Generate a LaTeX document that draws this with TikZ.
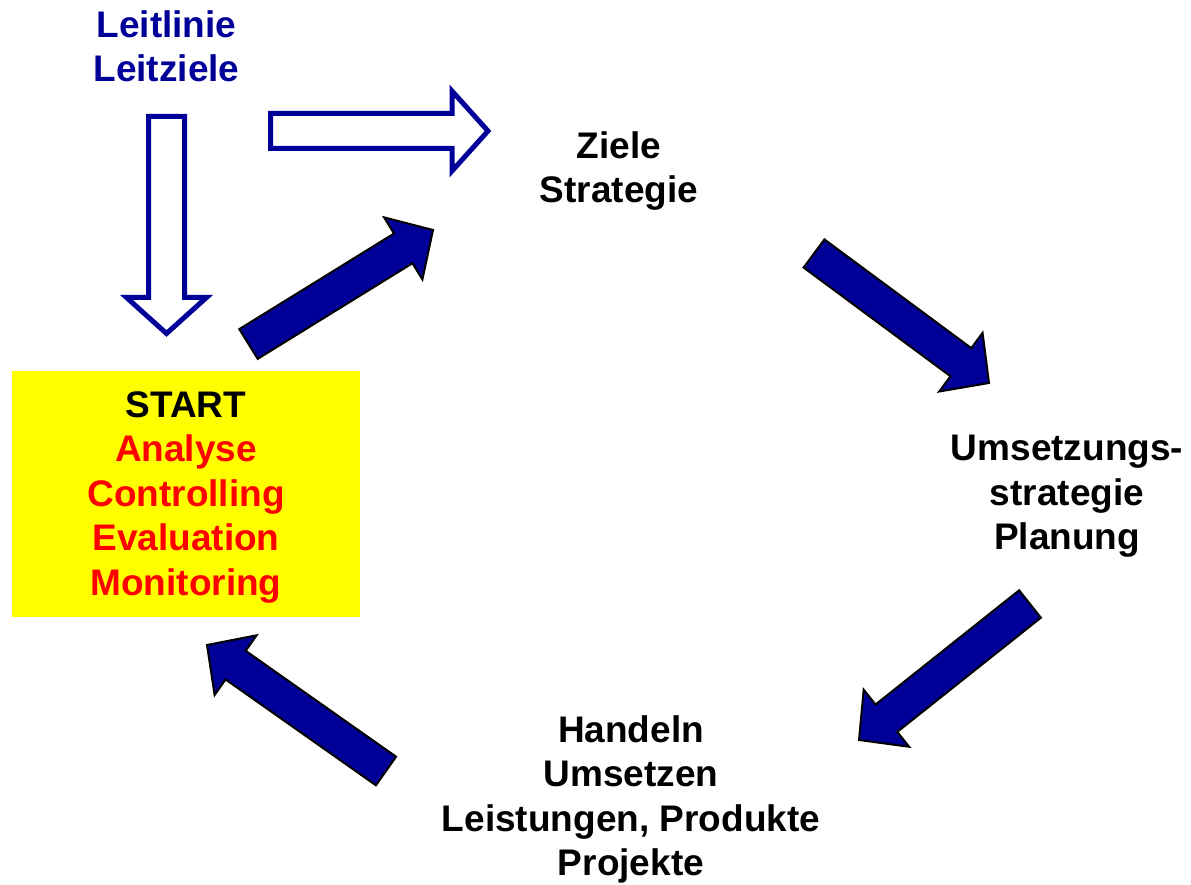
\documentclass[tikz,border=0pt]{standalone}
\usepackage{fontspec}
\setmainfont{Liberation Sans}
\usetikzlibrary{calc}

\definecolor{navy}{RGB}{0,0,153}
\definecolor{startyellow}{RGB}{255,255,0}
\definecolor{startred}{RGB}{255,0,0}

% block arrow: style, tail, tip, half shaft width, half head width, head length
\newcommand\blockarrow[6]{%
  \coordinate (ba-h) at ($(#3)!#6!(#2)$);
  \draw[#1] ($(#2)!#4!90:(#3)$) -- ($(ba-h)!#4!90:(#3)$) -- ($(ba-h)!#5!90:(#3)$)
    -- (#3) -- ($(ba-h)!#5!-90:(#3)$) -- ($(ba-h)!#4!-90:(#3)$)
    -- ($(#2)!#4!-90:(#3)$) -- cycle;
}

\tikzset{
  labeltext/.style={font=\fontsize{37}{44.5}\selectfont\bfseries, align=center, inner sep=0pt, anchor=north},
  hollowarrow/.style={draw=navy, fill=white, line width=5pt, line join=miter},
  solidarrow/.style={draw=black, fill=navy, line width=2pt, line join=miter},
}

\begin{document}
\begin{tikzpicture}[x=1pt, y=-1pt]
  \useasboundingbox (0,0) rectangle (1191,885);

  % start box
  \node[labeltext, anchor=center, fill=startyellow, minimum width=348pt, minimum height=246pt]
    (start) at (186,494)
    {\rule{0pt}{32.5pt}START\\\color{startred}Analyse\\\color{startred}Controlling\\\color{startred}Evaluation\\\color{startred}Monitoring};

  % guiding principles
  \node[labeltext, text=navy] (leit) at (166.5,10) {Leitlinie\\Leitziele};

  % cycle stations
  \node[labeltext] (ziele) at (619,131) {Ziele\\Strategie};
  \node[labeltext] (umsetz) at (1067,435) {Umsetzungs-\\strategie\\Planung};
  \node[labeltext] (handeln) at (631,715) {Handeln\\Umsetzen\\Leistungen, Produkte\\Projekte};

  % arrow end points
  \coordinate (leit-down-a) at (166.5,116.5);
  \coordinate (leit-down-b) at (166.5,333.5);
  \coordinate (leit-right-a) at (270.5,131);
  \coordinate (leit-right-b) at (488,131);
  \coordinate (c1a) at (248.5,344);
  \coordinate (c1b) at (433,230);
  \coordinate (c2a) at (814,253.5);
  \coordinate (c2b) at (989,383);
  \coordinate (c3a) at (1030,604);
  \coordinate (c3b) at (859,740);
  \coordinate (c4a) at (386,771);
  \coordinate (c4b) at (207,645);

  % hollow arrows from the guiding principles
  \blockarrow{hollowarrow}{leit-down-a}{leit-down-b}{18pt}{40pt}{36pt}
  \blockarrow{hollowarrow}{leit-right-a}{leit-right-b}{17.5pt}{40pt}{36pt}

  % cycle arrows
  \blockarrow{solidarrow}{c1a}{c1b}{17.5pt}{36.5pt}{35pt}
  \blockarrow{solidarrow}{c2a}{c2b}{17.5pt}{36.5pt}{35pt}
  \blockarrow{solidarrow}{c3a}{c3b}{17.5pt}{36.5pt}{35pt}
  \blockarrow{solidarrow}{c4a}{c4b}{17.5pt}{36.5pt}{35pt}
\end{tikzpicture}
\end{document}
